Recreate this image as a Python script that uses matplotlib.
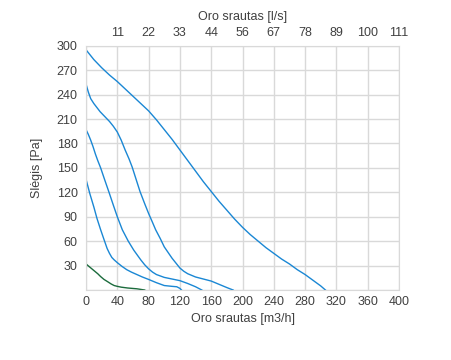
import matplotlib.pyplot as plt

plt.rcParams['font.family'] = ['Liberation Sans', 'DejaVu Sans']

# fan curves, airflow [m3/h] vs pressure [Pa]
c1_x = [0, 10, 20, 30, 40, 50, 60, 70, 80, 90, 100, 110, 120, 130, 140, 150, 160, 170, 180, 190, 200,
        210, 220, 230, 240, 250, 260, 270, 280, 290, 300, 306]
c1_y = [295, 283, 273, 264, 256, 247, 238, 229, 220, 209, 197, 185, 172, 159, 146, 133, 121, 109, 98, 87, 77,
        68, 60, 52, 45, 38, 32, 25, 19, 12, 5, 0]

c2_x = [0, 3, 6, 10, 14, 18, 24, 30, 35, 40, 45, 50, 55, 59, 64, 69, 75, 80, 85, 89, 95, 100, 105, 110,
        115, 120, 125, 130, 140, 150, 160, 170, 180, 188]
c2_y = [253, 243, 235, 229, 224, 219, 213, 207, 201, 194, 184, 172, 161, 151, 136, 121, 106, 94, 83, 74, 63, 53,
        46, 39, 33, 27, 23, 20, 16, 13.5, 11, 7, 3, 0]

c3_x = [0, 3, 6, 9, 12, 15, 18.7, 24, 29.4, 35, 40, 46.4, 54, 61, 70, 75, 80, 85, 90, 100, 110, 120, 130,
        140, 148]
c3_y = [197, 191, 184, 176, 167, 159, 150, 135, 120, 104, 90, 74, 60, 49, 37, 31, 26, 22, 19, 15.5, 13.5, 11.5,
        8, 4, 0]

c4_x = [0, 2.5, 5, 7.5, 10, 14, 18.7, 23, 27, 30, 33, 36, 40, 46, 52, 58, 65, 72, 80, 90, 100, 110, 116, 120,
        122]
c4_y = [136, 127, 118, 110, 102, 88, 74, 62, 51, 45, 40, 37, 33.6, 29, 25, 22, 19, 16, 13, 9, 5.5, 4.5, 4, 2, 0]

c5_x = [0, 5, 10, 15, 18.7, 23, 28, 32, 36, 40, 45, 53, 65, 75]
c5_y = [32, 28, 24, 20, 16.5, 13, 10, 7.5, 5.5, 4.5, 3.5, 2.5, 1.5, 0]

x_ticks = [0, 40, 80, 120, 160, 200, 240, 280, 320, 360, 400]
y_ticks = [0, 30, 60, 90, 120, 150, 180, 210, 240, 270, 300]
top_labels = ['', '11', '22', '33', '44', '56', '67', '78', '89', '100', '111']

blue = '#1a87d4'
green = '#1b6b3c'
grid_c = '#d9d9d9'
text_c = '#404040'

fig = plt.figure(figsize=(4.51, 3.6), dpi=100)
ax = fig.add_axes([0.1907, 0.1944, 0.694, 0.6786])

for xs, ys in [(c1_x, c1_y), (c2_x, c2_y), (c3_x, c3_y), (c4_x, c4_y)]:
    ax.plot(xs, ys, color=blue, lw=1.0)
ax.plot(c5_x, c5_y, color=green, lw=1.0)

ax.set_xlim(0, 400)
ax.set_ylim(0, 300)
ax.set_xticks(x_ticks)
ax.set_yticks(y_ticks)
ax.set_yticklabels([''] + [str(v) for v in y_ticks[1:]])
ax.grid(True, color=grid_c, lw=1.0)
ax.set_axisbelow(True)
for s in ax.spines.values():
    s.set_color(grid_c)
ax.tick_params(length=0, labelsize=9, colors=text_c)
ax.tick_params(axis='y', pad=6)
ax.tick_params(axis='x', pad=4)
ax.set_xlabel('Oro srautas [m3/h]', fontsize=9, color=text_c, labelpad=4)
ax.set_ylabel('Slėgis [Pa]', fontsize=9, color=text_c, labelpad=10)

top = ax.twiny()
top.set_xlim(0, 400)
top.set_xticks(x_ticks)
top.set_xticklabels(top_labels)
top.tick_params(length=0, labelsize=9, colors=text_c, pad=5)
for s in top.spines.values():
    s.set_visible(False)
top.set_xlabel('Oro srautas [l/s]', fontsize=9, color=text_c, labelpad=5)

fig.savefig('out.png', dpi=100)
